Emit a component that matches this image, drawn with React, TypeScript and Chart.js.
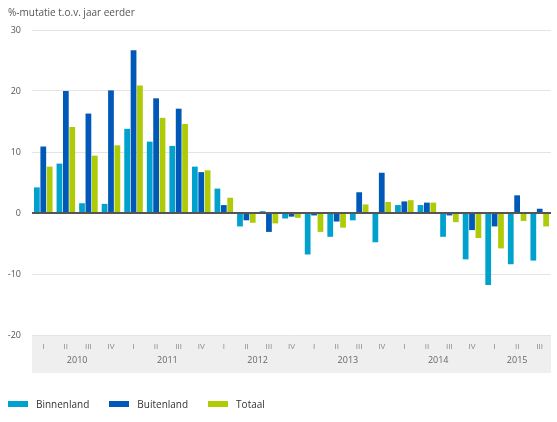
import React, { useEffect, useRef } from 'react';
import { Chart, registerables } from 'chart.js';

Chart.register(...registerables);

// Quarter labels (2010 I .. 2015 III) and the years they belong to
const quarters = [
  'I', 'II', 'III', 'IV',
  'I', 'II', 'III', 'IV',
  'I', 'II', 'III', 'IV',
  'I', 'II', 'III', 'IV',
  'I', 'II', 'III', 'IV',
  'I', 'II', 'III',
];
const years = ['2010', '2011', '2012', '2013', '2014', '2015'];

// %-mutatie t.o.v. jaar eerder
const binnenland = [4.2, 8.1, 1.6, 1.5, 13.8, 11.7, 11.0, 7.6, 4.0, -2.2, 0.3, -0.9, -6.8, -3.9, -1.2, -4.8, 1.3, 1.3, -3.9, -7.6, -11.8, -8.4, -7.8];
const buitenland = [10.9, 20.0, 16.3, 20.1, 26.7, 18.8, 17.1, 6.7, 1.3, -1.2, -3.1, -0.6, -0.4, -1.4, 3.4, 6.6, 1.9, 1.7, -0.4, -2.8, -2.2, 2.9, 0.7];
const totaal = [7.6, 14.1, 9.4, 11.1, 20.9, 15.6, 14.6, 7.0, 2.5, -1.6, -1.7, -0.8, -3.1, -2.4, 1.4, 1.8, 2.1, 1.7, -1.5, -4.1, -5.8, -1.3, -2.2];

const seriesNames = ['Binnenland', 'Buitenland', 'Totaal'];
const seriesColors = ['#00A1CD', '#0058B8', '#AFCB05'];

const yTicks = [-20, -10, 0, 10, 20, 30];

const FONT = '"Open Sans", sans-serif';

const decorPlugin = {
  id: 'decor',
  beforeDraw(chart: any) {
    const { ctx, chartArea, scales } = chart;
    const x = scales.x;
    ctx.save();
    ctx.fillStyle = '#efefef';
    ctx.fillRect(chartArea.left, x.top, chartArea.right - chartArea.left, x.bottom - x.top);
    ctx.restore();
  },
  afterDatasetsDraw(chart: any) {
    const { ctx, chartArea, scales } = chart;
    const y0 = scales.y.getPixelForValue(0);
    ctx.save();
    ctx.strokeStyle = '#555555';
    ctx.lineWidth = 2;
    ctx.beginPath();
    ctx.moveTo(chartArea.left, y0);
    ctx.lineTo(chartArea.right, y0);
    ctx.stroke();
    ctx.restore();
  },
  afterDraw(chart: any) {
    const { ctx, scales } = chart;
    const x = scales.x;
    ctx.save();
    ctx.fillStyle = '#666666';
    ctx.font = '9px ' + FONT;
    ctx.textAlign = 'center';
    ctx.textBaseline = 'middle';
    years.forEach((yr, i) => {
      const idx: number[] = [];
      for (let k = i * 4; k < Math.min(i * 4 + 4, quarters.length); k++) idx.push(k);
      const cx = idx.reduce((s, k) => s + x.getPixelForTick(k), 0) / idx.length;
      ctx.fillText(yr, cx, x.top + 25);
    });
    ctx.restore();
  },
};

export default function App() {
  const canvasRef = useRef<HTMLCanvasElement | null>(null);

  useEffect(() => {
    const canvas = canvasRef.current;
    if (!canvas) return;
    const values = [binnenland, buitenland, totaal];
    const chart = new Chart(canvas, {
      type: 'bar',
      data: {
        labels: quarters,
        datasets: values.map((v, i) => ({
          label: seriesNames[i],
          data: v,
          backgroundColor: seriesColors[i],
          borderWidth: 0,
          categoryPercentage: 0.85,
          barPercentage: 0.9,
        })),
      },
      options: {
        responsive: false,
        animation: false,
        layout: { padding: { left: 8, right: 6, top: 0, bottom: 49 } },
        plugins: {
          legend: { display: false },
          tooltip: { enabled: false },
          title: {
            display: true,
            text: '%-mutatie t.o.v. jaar eerder',
            align: 'start',
            color: '#555555',
            font: { family: FONT, size: 10, weight: 'normal' },
            padding: { top: 7, bottom: 11 },
          },
        },
        scales: {
          x: {
            grid: { display: false, drawTicks: false },
            border: { display: false },
            ticks: {
              color: '#888888',
              font: { family: FONT, size: 8 },
              padding: 7,
              maxRotation: 0,
              autoSkip: false,
            },
            afterFit(scale: any) {
              scale.height = 38;
            },
          },
          y: {
            min: -20,
            max: 30,
            afterBuildTicks(scale: any) {
              scale.ticks = yTicks.map((v) => ({ value: v }));
            },
            grid: {
              color: (c: any) => (c.tick && c.tick.value === 0 ? 'rgba(0,0,0,0)' : '#e4e4e4'),
              lineWidth: 1,
              drawTicks: false,
            },
            border: { display: false },
            ticks: {
              color: '#555555',
              font: { family: FONT, size: 9 },
              padding: 11,
            },
            afterFit(scale: any) {
              scale.width = 24;
            },
          },
        },
      } as any,
      plugins: [decorPlugin],
    });
    return () => chart.destroy();
  }, []);

  return (
    <div style={{ position: 'absolute', left: 0, top: 0, width: 557, height: 422, background: '#ffffff' }}>
      <canvas ref={canvasRef} width={557} height={422} style={{ display: 'block' }} />
      <div
        style={{
          position: 'absolute',
          left: 8,
          top: 396,
          display: 'flex',
          alignItems: 'center',
          height: 16,
          fontFamily: FONT,
          fontSize: 10,
          color: '#333333',
        }}
      >
        {seriesNames.map((name, i) => (
          <div key={name} style={{ display: 'flex', alignItems: 'center', marginRight: 20 }}>
            <span style={{ display: 'inline-block', width: 20, height: 6, background: seriesColors[i], marginRight: 8 }} />
            <span>{name}</span>
          </div>
        ))}
      </div>
    </div>
  );
}
